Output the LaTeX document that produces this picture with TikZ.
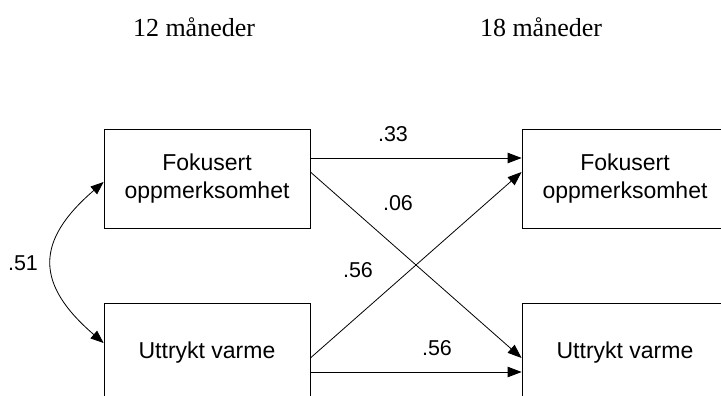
\documentclass[tikz,border=0pt]{standalone}
\usepackage{fontspec}
\setmainfont{Liberation Serif}
\newfontfamily\arial{Liberation Sans}
\usetikzlibrary{arrows.meta}
\begin{document}
\begin{tikzpicture}[x=1pt,y=-1pt,
  varbox/.style={draw=black,line width=0.8pt,minimum width=206pt,minimum height=99pt,inner sep=0pt,
    align=center,font=\arial\fontsize{23}{28}\selectfont},
  coef/.style={font=\arial\fontsize{21.5}{24}\selectfont,anchor=base,inner sep=0pt},
  head/.style={font=\fontsize{26}{30}\selectfont,anchor=base,inner sep=0pt},
  path/.style={draw=black,line width=0.8pt,-{Triangle[length=14pt,width=10.5pt]}},
  cov/.style={draw=black,line width=0.8pt,{Triangle[length=13pt,width=10pt]}-{Triangle[length=13pt,width=10pt]}}]
\clip (0,0) rectangle (721,396);
\fill[white] (0,0) rectangle (721,396);
\node[head] (h12) at (194,37) {12 måneder};
\node[head] (h18) at (541,37) {18 måneder};
\node[varbox] (A) at (207,178.5) {Fokusert\\oppmerksomhet};
\node[varbox] (B) at (625,178.5) {Fokusert\\oppmerksomhet};
\node[varbox] (C) at (207,352.5) {Uttrykt varme};
\node[varbox] (D) at (625,352.5) {Uttrykt varme};
\draw[path] ([yshift=20.5pt]A.east) -- ([yshift=20.5pt]B.west);
\draw[path] ([yshift=6.5pt]A.east) -- ([yshift=-5.5pt]D.west);
\draw[path] ([yshift=-5.5pt]C.east) -- ([yshift=6.5pt]B.west);
\draw[path] ([yshift=-19.5pt]C.east) -- ([yshift=-19.5pt]D.west);
\coordinate (ca) at ([yshift=-3.5pt]A.west);
\coordinate (cc) at ([yshift=9.5pt]C.west);
\draw[cov] (ca) .. controls (35,241) and (35,284) .. (cc);
\node[coef] (l33) at (393,141) {.33};
\node[coef] (l06) at (398,210) {.06};
\node[coef] (l56a) at (358,277) {.56};
\node[coef] (l56b) at (437,355) {.56};
\node[coef] (l51) at (23,270) {.51};
\end{tikzpicture}
\end{document}
